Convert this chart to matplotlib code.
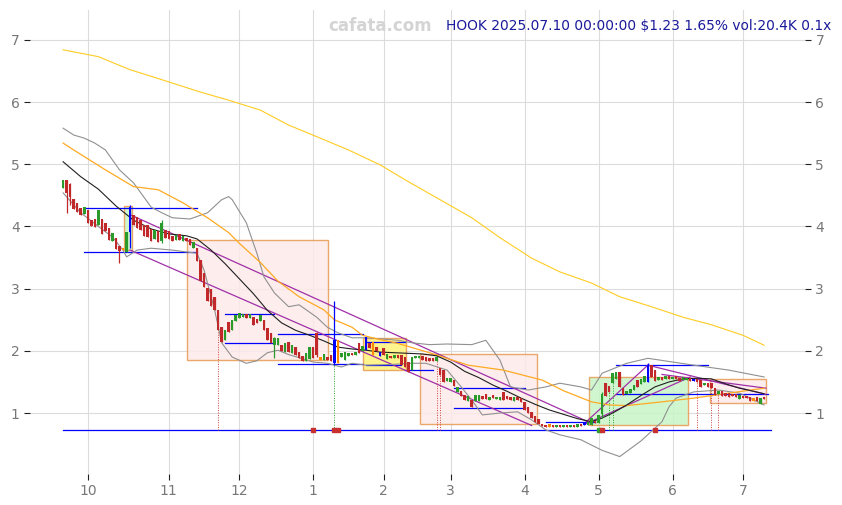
import numpy as np
import pandas as pd
import matplotlib
matplotlib.use("Agg")
import matplotlib.pyplot as plt
from matplotlib.patches import Rectangle

# trading days shown on the chart
start_date = "2024-09-20"
end_date = "2025-07-10"
holidays = ["2024-11-28", "2024-12-25", "2025-01-01", "2025-01-09", "2025-01-20",
            "2025-02-17", "2025-04-18", "2025-05-26", "2025-06-19", "2025-07-04"]

opens = [4.62, 4.75, 4.68, 4.44, 4.38, 4.30, 4.20, 4.27, 4.10, 4.12,
         4.02, 4.12, 4.06, 3.98, 3.76, 3.82, 3.69, 3.62, 3.59, 3.91,
         4.19, 4.15, 4.10, 4.03, 4.02, 3.96, 3.80, 3.92, 3.76, 3.95,
         3.93, 3.84, 3.78, 3.88, 3.76, 3.82, 3.80, 3.66, 3.66, 3.46,
         3.25, 3.01, 3.00, 2.87, 2.66, 2.38, 2.17, 2.46, 2.34, 2.48,
         2.53, 2.55, 2.60, 2.53, 2.55, 2.52, 2.48, 2.50, 2.37, 2.28,
         2.10, 2.10, 2.10, 1.98, 2.14, 1.97, 2.06, 1.98, 1.92, 1.84,
         1.87, 2.06, 2.29, 1.90, 1.85, 1.90, 1.94, 1.80, 2.17, 1.90,
         1.85, 1.92, 1.97, 1.93, 2.13, 1.99, 2.01, 2.13, 2.14, 2.06,
         1.92, 2.05, 1.87, 1.92, 1.88, 1.93, 1.93, 1.90, 1.82, 1.70,
         1.88, 1.89, 1.91, 1.90, 1.89, 1.88, 1.84, 1.72, 1.69, 1.52,
         1.50, 1.53, 1.34, 1.36, 1.29, 1.20, 1.21, 1.20, 1.19, 1.28,
         1.31, 1.21, 1.29, 1.22, 1.21, 1.34, 1.27, 1.26, 1.20, 1.26,
         1.24, 1.18, 1.10, 1.02, 0.95, 0.90, 0.83, 0.80, 0.78, 0.81,
         0.77, 0.80, 0.77, 0.80, 0.77, 0.81, 0.78, 0.82, 0.80, 0.80,
         0.81, 0.88, 0.84, 0.98, 1.48, 1.44, 1.48, 1.55, 1.66, 1.40,
         1.30, 1.32, 1.37, 1.53, 1.47, 1.50, 1.50, 1.77, 1.70, 1.53,
         1.58, 1.55, 1.60, 1.55, 1.60, 1.57, 1.53, 1.53, 1.57, 1.52,
         1.55, 1.53, 1.45, 1.48, 1.48, 1.40, 1.31, 1.35, 1.32, 1.32,
         1.30, 1.30, 1.22, 1.28, 1.28, 1.26, 1.20, 1.25, 1.15, 1.26]

closes = [4.75, 4.53, 4.47, 4.28, 4.24, 4.18, 4.31, 4.06, 4.01, 3.99,
          4.27, 3.88, 3.92, 3.79, 3.90, 3.63, 3.60, 3.66, 3.91, 4.31,
          4.03, 3.98, 3.95, 3.85, 3.83, 3.76, 3.95, 3.75, 4.05, 3.82,
          3.80, 3.76, 3.86, 3.78, 3.84, 3.76, 3.70, 3.75, 3.45, 3.12,
          3.02, 2.80, 2.72, 2.66, 2.34, 2.14, 2.34, 2.31, 2.50, 2.58,
          2.61, 2.60, 2.53, 2.60, 2.42, 2.45, 2.58, 2.34, 2.17, 2.13,
          2.20, 2.20, 2.00, 2.12, 1.98, 2.10, 1.93, 1.88, 1.83, 1.96,
          2.06, 1.88, 1.93, 1.86, 1.95, 1.85, 1.84, 2.17, 1.80, 1.97,
          1.98, 1.97, 1.94, 1.98, 1.97, 2.08, 2.22, 2.05, 1.93, 2.00,
          1.98, 1.93, 1.95, 1.88, 1.94, 1.89, 1.77, 1.74, 1.66, 1.90,
          1.92, 1.92, 1.86, 1.84, 1.84, 1.84, 1.90, 1.61, 1.50, 1.57,
          1.57, 1.43, 1.42, 1.28, 1.21, 1.28, 1.10, 1.29, 1.29, 1.22,
          1.22, 1.26, 1.24, 1.26, 1.26, 1.21, 1.22, 1.21, 1.26, 1.21,
          1.18, 1.05, 1.00, 0.92, 0.86, 0.82, 0.79, 0.78, 0.82, 0.77,
          0.80, 0.77, 0.80, 0.77, 0.81, 0.78, 0.82, 0.79, 0.85, 0.85,
          0.92, 0.84, 0.97, 1.30, 1.28, 1.34, 1.64, 1.66, 1.42, 1.29,
          1.36, 1.38, 1.45, 1.42, 1.55, 1.60, 1.77, 1.58, 1.52, 1.58,
          1.53, 1.59, 1.55, 1.58, 1.55, 1.52, 1.58, 1.56, 1.52, 1.55,
          1.50, 1.42, 1.49, 1.42, 1.40, 1.29, 1.35, 1.27, 1.27, 1.26,
          1.27, 1.26, 1.29, 1.24, 1.24, 1.20, 1.24, 1.20, 1.24, 1.23]

# long wicks (bar index: (high, low)); other bars have body-only wicks
wick_extremes = {1: (4.75, 4.22), 2: (4.70, 4.35), 16: (3.69, 3.41), 19: (4.35, 3.65),
                 28: (4.10, 3.74), 60: (2.22, 1.89), 72: (2.30, 1.90), 77: (2.80, 1.78),
                 153: (1.34, 0.92), 166: (1.80, 1.50)}
blue_bars = [19, 77, 86, 90, 148, 166, 179]
orange_bars = [17, 73, 78, 88, 138, 196]

# indicator lines, sampled as (bar index, value)
ma_fast = [(0, 5.04), (5, 4.80), (10, 4.60), (15, 4.33), (20, 4.10), (25, 3.96), (30, 3.88),
           (35, 3.85), (38, 3.80), (42, 3.62), (46, 3.40), (50, 3.16), (54, 2.92), (58, 2.65),
           (62, 2.45), (66, 2.33), (70, 2.25), (74, 2.16), (78, 2.06), (82, 2.03), (86, 2.01),
           (90, 1.98), (94, 1.97), (98, 1.96), (102, 1.95), (106, 1.92), (110, 1.82), (114, 1.67),
           (118, 1.57), (122, 1.45), (126, 1.35), (130, 1.24), (134, 1.14), (138, 1.05),
           (142, 0.98), (146, 0.91), (150, 0.86), (153, 0.92), (156, 1.00), (160, 1.13),
           (164, 1.28), (168, 1.42), (172, 1.50), (176, 1.55), (180, 1.56), (184, 1.55),
           (188, 1.47), (192, 1.40), (196, 1.35), (199, 1.31)]
ma_mid = [(0, 5.34), (3, 5.23), (12, 4.91), (20, 4.64), (27, 4.59), (34, 4.38), (41, 4.14),
          (47, 3.90), (50, 3.73), (56, 3.42), (61, 3.12), (67, 2.87), (74, 2.66), (77, 2.50),
          (82, 2.38), (85, 2.25), (90, 2.18), (95, 2.12), (104, 1.97), (115, 1.77), (125, 1.69),
          (136, 1.53), (142, 1.36), (150, 1.18), (155, 1.13), (160, 1.12), (170, 1.18),
          (179, 1.24), (189, 1.32), (199, 1.40)]
ma_slow = [(0, 6.84), (10, 6.73), (19, 6.52), (28, 6.36), (39, 6.16), (47, 6.03), (56, 5.87),
           (64, 5.63), (73, 5.42), (81, 5.23), (90, 4.99), (98, 4.72), (107, 4.43), (116, 4.14),
           (124, 3.82), (133, 3.49), (141, 3.27), (150, 3.09), (158, 2.87), (167, 2.71),
           (176, 2.54), (184, 2.42), (193, 2.25), (199, 2.09)]
bb_upper = [(0, 5.58), (3, 5.47), (6, 5.42), (9, 5.34), (12, 5.23), (16, 4.91), (20, 4.70),
            (25, 4.31), (28, 4.22), (31, 4.14), (36, 4.12), (41, 4.22), (45, 4.43), (47, 4.48),
            (48, 4.43), (52, 4.06), (55, 3.57), (57, 3.19), (60, 2.93), (64, 2.71), (67, 2.74),
            (69, 2.66), (72, 2.54), (75, 2.38), (78, 2.29), (82, 2.21), (86, 2.21), (95, 2.17),
            (99, 2.13), (104, 2.10), (109, 2.11), (116, 2.10), (120, 2.17), (124, 1.85),
            (127, 1.42), (132, 1.37), (137, 1.42), (141, 1.48), (147, 1.42), (150, 1.37),
            (153, 1.64), (160, 1.80), (166, 1.88), (179, 1.77), (189, 1.69), (199, 1.58)]
bb_lower = [(0, 4.54), (5, 4.22), (10, 4.00), (14, 3.83), (17, 3.62), (18, 3.51), (21, 3.62),
            (25, 3.65), (31, 3.62), (35, 3.59), (38, 3.57), (40, 3.30), (43, 2.66), (45, 2.13),
            (48, 1.90), (52, 1.80), (55, 1.84), (58, 1.97), (61, 2.01), (64, 1.94), (67, 1.89),
            (71, 1.82), (75, 1.80), (79, 1.74), (82, 1.80), (86, 1.77), (93, 1.78), (99, 1.80),
            (103, 1.80), (109, 1.69), (113, 1.42), (116, 1.21), (119, 0.97), (124, 1.00),
            (129, 1.02), (133, 0.89), (137, 0.73), (141, 0.65), (147, 0.57), (153, 0.40),
            (158, 0.30), (164, 0.55), (170, 0.86), (172, 1.10), (174, 1.24), (179, 1.34),
            (186, 1.37), (192, 1.32), (199, 1.13)]

# trend lines: (start index, start value, end index, end value)
trend_lines = [(19, 4.19, 149, 0.86), (19, 3.62, 133, 0.80), (148.5, 0.86, 166, 1.77),
               (148.5, 0.83, 178, 1.58), (166, 1.77, 199.5, 1.30), (170, 1.62, 199.5, 1.40)]
# horizontal levels: (start index, end index, value)
levels = [(6, 38, 4.29), (6, 38, 3.59), (46, 60, 2.59), (46, 60, 2.12), (61, 85, 2.27),
          (61, 85, 1.79), (86, 97, 2.14), (86, 96, 1.78), (97, 105, 1.69), (111, 131, 1.40),
          (111, 131, 1.08), (137, 151, 0.86), (157, 183, 1.77), (157, 200, 1.31), (0, 201, 0.73)]
# zones: (start index, end index, low, high, fill colour)
zones = [(17.3, 19.5, 3.62, 4.33, "#c8f5c8"), (35.2, 75.3, 1.85, 3.78, "#fdeaea"),
         (85.2, 97.4, 1.69, 2.21, "#fff27a"), (101.4, 134.4, 0.82, 1.95, "#fdeaea"),
         (149.4, 177.3, 0.81, 1.58, "#c8f5c8"), (183.5, 199.4, 1.16, 1.55, "#fdeaea")]
signal_red = [44, 106, 107, 180, 184, 186]
signal_green = [77, 155, 156]
floor_marks = [(71, "#c83030"), (77, "#c83030"), (78, "#c83030"), (152, "#30a030"),
               (153, "#c83030"), (168, "#c83030")]

dates = pd.bdate_range(start_date, end_date)
dates = dates[~dates.isin(pd.to_datetime(holidays))]
df = pd.DataFrame({"open": opens, "close": closes}, index=dates)
x = np.arange(len(df))

fig = plt.figure(figsize=(8.42, 5.05), dpi=100)
ax = fig.add_axes([30 / 842, 31 / 505, 775 / 842, 464 / 505])

for z in zones:
    ax.add_patch(Rectangle((z[0], z[2]), z[1] - z[0], z[3] - z[2], facecolor=z[4],
                           edgecolor="#e89a50", linewidth=1, alpha=0.85, zorder=1))

for s, e, v in levels:
    ax.plot([s, e], [v, v], color="#0000ff", linewidth=0.9, zorder=2)

for s_i, s_v, e_i, e_v in trend_lines:
    ax.plot([s_i, e_i], [s_v, e_v], color="#a030a8", linewidth=0.9, zorder=2)

floor = 0.73
for i in signal_red:
    ax.plot([i, i], [floor, min(opens[i], closes[i])], color="#d04040", linewidth=0.7,
            linestyle=(0, (1, 1.5)), zorder=2)
for i in signal_green:
    ax.plot([i, i], [floor, min(opens[i], closes[i])], color="#30a030", linewidth=0.7,
            linestyle=(0, (1, 1.5)), zorder=2)

for line, col, lw in [(bb_upper, "#909090", 0.8), (bb_lower, "#909090", 0.8),
                      (ma_slow, "#ffcc22", 0.8), (ma_mid, "#ffaa22", 0.9),
                      (ma_fast, "#202020", 0.8)]:
    ax.plot([p[0] for p in line], [p[1] for p in line], color=col, linewidth=lw, zorder=3)

colors = []
for i in x:
    if i in blue_bars:
        colors.append("#0000ff")
    elif i in orange_bars:
        colors.append("#ff8c00")
    elif df["close"].iloc[i] >= df["open"].iloc[i]:
        colors.append("#2a9a2a")
    else:
        colors.append("#c0282a")

body_lo = df[["open", "close"]].min(axis=1).values
body_hi = df[["open", "close"]].max(axis=1).values
highs = body_hi.copy()
lows = body_lo.copy()
for i, (h, l) in wick_extremes.items():
    highs[i] = h
    lows[i] = l
ax.vlines(x, lows, highs, colors=colors, linewidth=0.9, zorder=4)
ax.bar(x, np.maximum(body_hi - body_lo, 0.012), bottom=body_lo, width=0.72,
       color=colors, linewidth=0, zorder=5)

for i, c in floor_marks:
    ax.plot(i, floor, marker="s", markersize=2.5, color=c, linestyle="none", zorder=6)

month_starts = [i for i in range(1, len(dates)) if dates[i].month != dates[i - 1].month]
ax.set_xticks(month_starts)
ax.set_xticklabels([str(dates[i].month) for i in month_starts])
ax.set_yticks([1, 2, 3, 4, 5, 6, 7])
ax.set_xlim(-9.4, 210.6)
ax.set_ylim(0.02, 7.48)
ax.grid(True, color="#dcdcdc", linewidth=0.8)
ax.set_axisbelow(True)
for sp in ax.spines.values():
    sp.set_visible(False)
ax.tick_params(axis="both", labelsize=10, labelcolor="#777777", color="#222222", length=4)
ax.tick_params(axis="y", right=True, labelright=True)

fig.text(0.451, 0.9485, "cafata.com", fontsize=12, fontweight="bold", color="#d4d4d4",
         ha="center", va="center")
fig.text(0.987, 0.9485, "HOOK 2025.07.10 00:00:00 $1.23 1.65% vol:20.4K 0.1x", fontsize=9.9,
         color="#1a1a9a", ha="right", va="center")

fig.savefig("out.png", dpi=100)
